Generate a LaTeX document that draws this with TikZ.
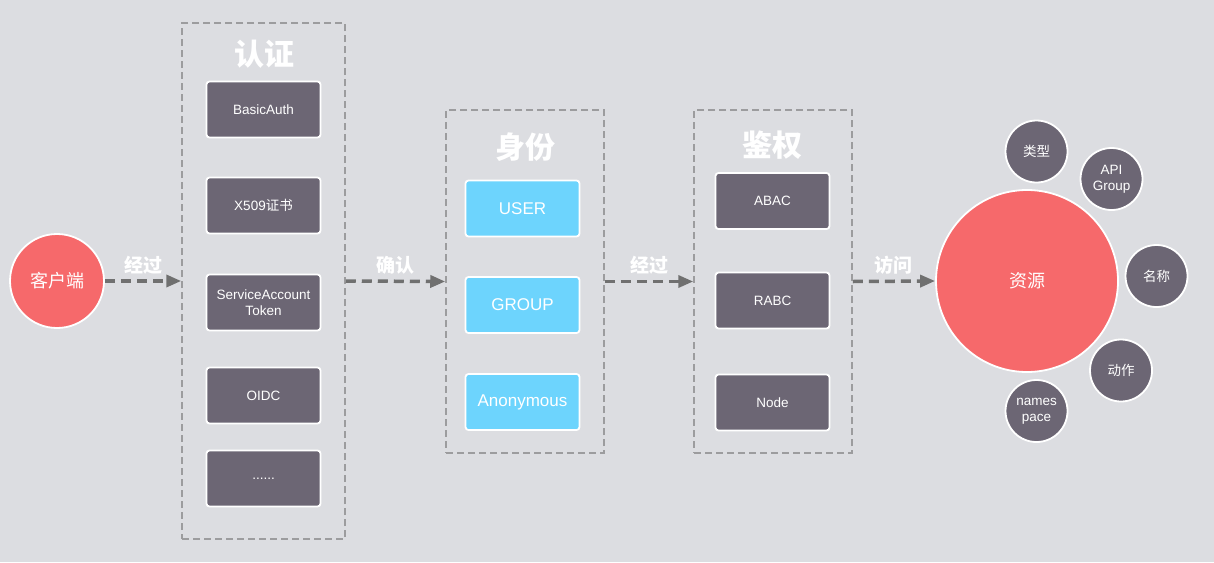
\documentclass[tikz,border=0pt]{standalone}
\usepackage{fontspec}
\setmainfont{Liberation Sans}
\newfontfamily\cjk{Noto Sans CJK SC}
\usetikzlibrary{arrows.meta}
\definecolor{bg}{HTML}{DCDDE1}
\definecolor{boxgray}{HTML}{6C6674}
\definecolor{redc}{HTML}{F6696B}
\definecolor{cyanc}{HTML}{6DD4FD}
\definecolor{dashc}{HTML}{9C9C9E}
\definecolor{arrc}{HTML}{707070}
\begin{document}
\begin{tikzpicture}[x=1pt,y=-1pt,
  grp/.style={draw=dashc, line width=1.5pt, dash pattern=on 7pt off 4pt, fill=none, inner sep=0pt},
  dbox/.style={draw=white, line width=1.8pt, fill=boxgray, rounded corners=3pt, minimum width=114pt, minimum height=56pt, inner sep=0pt, text=white, font=\fontsize{13.5}{15.5}\selectfont, align=center},
  cbox/.style={dbox, fill=cyanc, font=\fontsize{17}{19}\selectfont},
  ttl/.style={text=white, font=\cjk\bfseries\fontsize{30}{32}\selectfont},
  lbl/.style={text=white, font=\cjk\bfseries\fontsize{19}{20}\selectfont, above=2pt},
  flow/.style={draw=arrc, line width=3.5pt, dash pattern=on 10pt off 6pt, -{Triangle[length=15pt,width=12pt]}},
  bigc/.style={circle, draw=white, line width=1.8pt, fill=redc, text=white, inner sep=0pt},
  smc/.style={circle, draw=white, line width=1.8pt, fill=boxgray, text=white, inner sep=0pt, minimum size=62pt, align=center, font=\fontsize{13.5}{16}\selectfont}
]
\fill[bg] (0,0) rectangle (1214,562);
\useasboundingbox (0,0) rectangle (1214,562);

% client
\node[bigc, minimum size=94pt, font=\cjk\fontsize{18}{19}\selectfont] (client) at (57,281) {客户端};

% authentication group
\node[grp, minimum width=163pt, minimum height=516pt] (auth) at (263.5,281) {};
\node[ttl] (authT) at (264,54) {认证};
\node[dbox] (basic) at (263.5,109.5) {BasicAuth};
\node[dbox] (x509) at (263.5,205.5) {X509{\cjk 证书}};
\node[dbox] (sa) at (263.5,302.5) {ServiceAccount\\Token};
\node[dbox] (oidc) at (263.5,395.5) {OIDC};
\node[dbox] (dots) at (263.5,478.5) {......};

% identity group
\node[grp, minimum width=158pt, minimum height=343pt] (ident) at (525,281.5) {};
\node[ttl] (identT) at (525,147) {身份};
\node[cbox] (user) at (522.5,208.5) {USER};
\node[cbox] (group) at (522.5,305) {GROUP};
\node[cbox] (anon) at (522.5,402) {Anonymous};

% authorization group
\node[grp, minimum width=158pt, minimum height=343pt] (authz) at (773,281.5) {};
\node[ttl] (authzT) at (772,145) {鉴权};
\node[dbox] (abac) at (772.5,201) {ABAC};
\node[dbox] (rabc) at (772.5,300.5) {RABC};
\node[dbox] (nodeb) at (772.5,402.5) {Node};

% resource
\node[bigc, minimum size=182pt, font=\cjk\fontsize{18}{19}\selectfont] (res) at (1027,281) {资源};
\node[smc, font=\cjk\fontsize{13.5}{15}\selectfont] (kind) at (1036.5,151.5) {类型};
\node[smc] (api) at (1111.5,179) {API\\Group};
\node[smc, font=\cjk\fontsize{13.5}{15}\selectfont] (name) at (1156.5,276) {名称};
\node[smc, font=\cjk\fontsize{13.5}{15}\selectfont] (verb) at (1121,370.5) {动作};
\node[smc] (ns) at (1036.5,411) {names\\pace};

% connectors
\draw[flow] (client.east) -- node[lbl] {经过} (auth.west);
\draw[flow] (auth.east) -- node[lbl] {确认} (ident.west);
\draw[flow] (ident.east) -- node[lbl] {经过} (authz.west);
\draw[flow] (authz.east) -- node[lbl] {访问} (res.west);
\end{tikzpicture}
\end{document}
